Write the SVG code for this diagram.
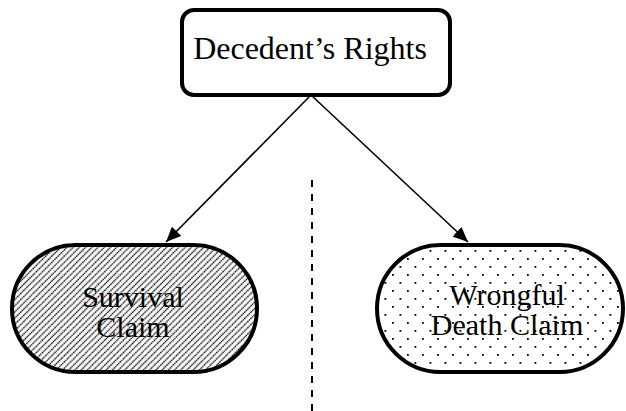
<svg xmlns="http://www.w3.org/2000/svg" width="626" height="411" viewBox="0 0 626 411">
  <style>
    .box { fill: #fff; stroke: #000; stroke-width: 4; }
    .lbl { font-family: "Liberation Serif", "Times New Roman", serif; fill: #000; text-anchor: middle; }
    .conn { stroke: #000; stroke-width: 1.6; fill: none; }
  </style>
  <defs>
    <marker id="arrow" viewBox="0 0 15 13" refX="15" refY="6.5" markerWidth="15" markerHeight="13" markerUnits="userSpaceOnUse" orient="auto">
      <path d="M0,0 L15,6.5 L0,13 z" fill="#000"/>
    </marker>
    <pattern id="hatch" width="4.4" height="4.4" patternUnits="userSpaceOnUse" patternTransform="rotate(-45)">
      <rect width="4.4" height="4.4" fill="#fff"/>
      <line x1="0" y1="2.2" x2="4.4" y2="2.2" stroke="#000" stroke-width="1.2" stroke-dasharray="1.6 0.6"/>
    </pattern>
    <pattern id="dots" width="15" height="16" patternUnits="userSpaceOnUse" x="2" y="2">
      <rect width="15" height="16" fill="#fff"/>
      <rect x="0" y="0" width="1.8" height="1.8" fill="#000"/>
      <rect x="7.5" y="8" width="1.8" height="1.8" fill="#000"/>
    </pattern>
  </defs>

  <g id="connectors">
    <line class="conn" x1="311" y1="95" x2="166" y2="242" marker-end="url(#arrow)"/>
    <line class="conn" x1="311" y1="95" x2="468" y2="242" marker-end="url(#arrow)"/>
    <line class="conn" x1="312" y1="180" x2="312" y2="411" stroke-dasharray="7 7" style="stroke-width:2"/>
  </g>

  <g id="decedents-rights">
    <rect class="box" x="182" y="10" width="268" height="85" rx="12" ry="12"/>
    <text class="lbl" x="310" y="59" font-size="32">Decedent’s Rights</text>
  </g>

  <g id="survival-claim">
    <rect class="box" x="12" y="245" width="245" height="127" rx="63.5" ry="63.5" style="fill:url(#hatch)"/>
    <text class="lbl" x="133" y="307" font-size="30">Survival</text>
    <text class="lbl" x="133" y="337" font-size="30">Claim</text>
  </g>

  <g id="wrongful-death-claim">
    <rect class="box" x="377" y="245" width="246" height="127" rx="63.5" ry="63.5" style="fill:url(#dots)"/>
    <text class="lbl" x="507" y="305" font-size="30">Wrongful</text>
    <text class="lbl" x="507" y="335" font-size="30">Death Claim</text>
  </g>
</svg>
